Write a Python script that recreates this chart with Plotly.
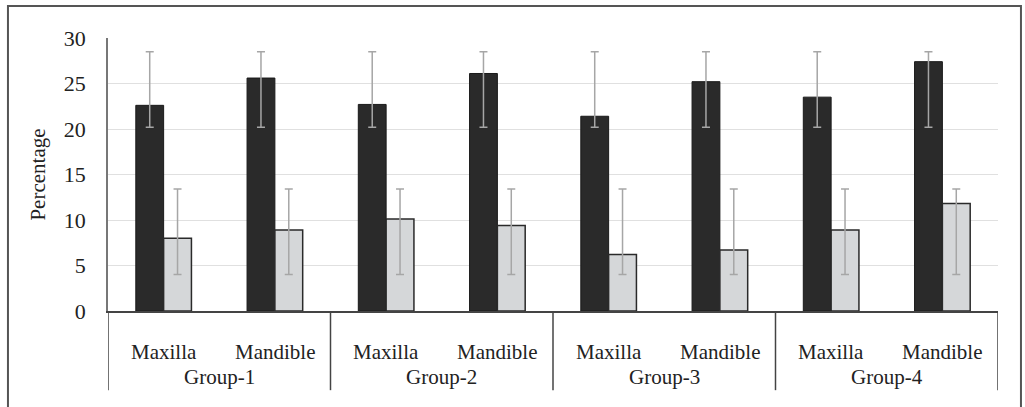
import plotly.graph_objects as go

groups = ["Group-1", "Group-2", "Group-3", "Group-4"]
jaws = ["Maxilla", "Mandible"]
categories = [(g, j) for g in groups for j in jaws]

black_vals = [22.6, 25.6, 22.7, 26.1, 21.4, 25.2, 23.5, 27.4]
black_err_hi = [28.5] * 8
black_err_lo = [20.2] * 8

gray_vals = [8.0, 8.9, 10.1, 9.4, 6.2, 6.7, 8.9, 11.8]
gray_err_hi = [13.4] * 8
gray_err_lo = [4.0] * 8

y_ticks = [0, 5, 10, 15, 20, 25, 30]

serif = "Liberation Serif, Times New Roman, serif"
txt = "#222222"

xpos = list(range(len(categories)))

fig = go.Figure()
fig.add_trace(go.Bar(
    x=xpos, y=black_vals,
    marker=dict(color="#2a2a2a", line=dict(color="#1a1a1a", width=1)),
    error_y=dict(type="data", symmetric=False,
                 array=[h - v for h, v in zip(black_err_hi, black_vals)],
                 arrayminus=[v - l for v, l in zip(black_vals, black_err_lo)],
                 color="#a6a6a6", thickness=1.5, width=4),
    showlegend=False,
))
fig.add_trace(go.Bar(
    x=xpos, y=gray_vals,
    marker=dict(color="#d5d7d9", line=dict(color="#2a2a2a", width=1.5)),
    error_y=dict(type="data", symmetric=False,
                 array=[h - v for h, v in zip(gray_err_hi, gray_vals)],
                 arrayminus=[v - l for v, l in zip(gray_vals, gray_err_lo)],
                 color="#a6a6a6", thickness=1.5, width=4),
    showlegend=False,
))

annotations = []
for i, (g, j) in enumerate(categories):
    annotations.append(dict(x=i, y=-0.15, xref="x", yref="paper", text=j, showarrow=False,
                            font=dict(family=serif, size=21, color=txt), xanchor="center", yanchor="middle"))
n_sub = len(jaws)
for gi, g in enumerate(groups):
    annotations.append(dict(x=gi * n_sub + (n_sub - 1) / 2, y=-0.243, xref="x", yref="paper", text=g,
                            showarrow=False, font=dict(family=serif, size=21, color=txt),
                            xanchor="center", yanchor="middle"))

shapes = []
for gi in range(len(groups) + 1):
    xb = gi * n_sub - 0.5
    shapes.append(dict(type="line", xref="x", yref="paper", x0=xb, x1=xb, y0=0, y1=-0.29,
                       line=dict(color="#444444", width=1.5)))
shapes.append(dict(type="rect", xref="paper", yref="paper",
                   x0=-0.1124, x1=1.0258, y0=-0.45, y1=1.117,
                   line=dict(color="#555555", width=2), fillcolor="rgba(0,0,0,0)", layer="below"))

fig.update_layout(
    width=1025, height=407,
    margin=dict(l=108, r=27, t=38, b=96, autoexpand=False),
    paper_bgcolor="white", plot_bgcolor="white",
    barmode="group", bargap=0.5, bargroupgap=0,
    font=dict(family=serif, color=txt, size=16),
    xaxis=dict(
        range=[-0.5, len(categories) - 0.5],
        showline=True, linecolor="#444444", linewidth=1.5,
        showticklabels=False, ticks="", showgrid=False, zeroline=False,
    ),
    yaxis=dict(
        range=[0, 30], tickvals=y_ticks,
        showgrid=True, gridcolor="#e0e0e0", gridwidth=1,
        showline=True, linecolor="#777777", linewidth=1.5,
        zeroline=False, ticks="", ticklabelstandoff=16,
        tickfont=dict(family=serif, size=22, color=txt),
        automargin=False,
        title=dict(text="Percentage", font=dict(family=serif, size=21, color=txt), standoff=12),
    ),
    shapes=shapes,
    annotations=annotations,
)

fig.write_html("out.html", config={"displayModeBar": False},
               post_script="document.body.style.margin='0px';document.body.style.overflow='hidden';")
